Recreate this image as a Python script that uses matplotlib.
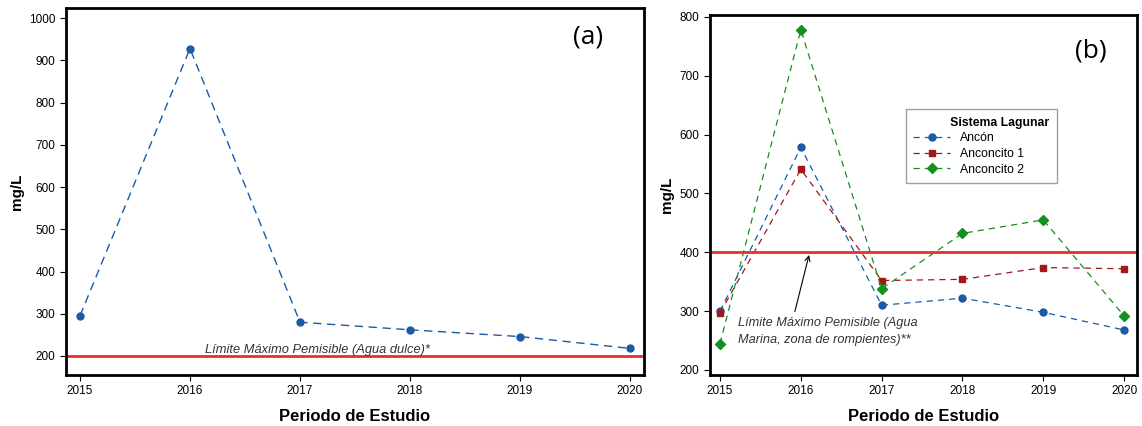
import numpy as np
import matplotlib.pyplot as plt

# -----------------------------
# Data
# -----------------------------
years = [2015, 2016, 2017, 2018, 2019, 2020]

# panel (a): agua dulce
dulce = [295, 928, 280, 262, 246, 218]
limite_dulce = 200

# panel (b): sistema lagunar
ancon = [300, 578, 310, 322, 298, 268]
anconcito1 = [297, 541, 352, 354, 374, 372]
anconcito2 = [245, 778, 338, 432, 455, 292]
limite_marina = 400

series_names = ["Ancón", "Anconcito 1", "Anconcito 2"]

BLUE = "#1a5aa6"
RED = "#a01818"
GREEN = "#14901e"
LIMIT = "#e8302a"

plt.rcParams["font.family"] = ["Liberation Sans", "DejaVu Sans"]

fig = plt.figure(figsize=(11.42, 4.26), dpi=100)

# -----------------------------
# Panel (a)
# -----------------------------
ax1 = fig.add_axes([66 / 1142, 1 - 375 / 426, (644 - 66) / 1142, (375 - 8) / 426])
ax1.plot(years, dulce, color=BLUE, linestyle=(0, (6, 4)), linewidth=1.0,
         marker="o", markersize=5)
ax1.axhline(limite_dulce, color=LIMIT, linewidth=2)
ax1.text(2016.14, 206, "Límite Máximo Pemisible (Agua dulce)*",
         fontsize=9.3, style="italic", color="#333333")
ax1.text(0.93, 0.92, "(a)", transform=ax1.transAxes, fontsize=19,
         ha="right", va="center", family=["Open Sans", "DejaVu Sans"])
ax1.set_xlim(2015 - 0.127, 2020 + 0.127)
ax1.set_ylim(155, 1024)
ax1.set_xticks(years)
ax1.set_yticks(np.arange(200, 1001, 100))
ax1.set_ylabel("mg/L", fontsize=11, fontweight="bold")
ax1.set_xlabel("Periodo de Estudio", fontsize=12, fontweight="bold", labelpad=8)

# -----------------------------
# Panel (b)
# -----------------------------
ax2 = fig.add_axes([710 / 1142, 1 - 375 / 426, (1137 - 710) / 1142, (375 - 15) / 426])
ax2.plot(years, ancon, color=BLUE, linestyle=(0, (5, 4)), linewidth=0.9,
         marker="o", markersize=5, label=series_names[0])
ax2.plot(years, anconcito1, color=RED, linestyle=(0, (5, 4)), linewidth=0.9,
         marker="s", markersize=5, label=series_names[1])
ax2.plot(years, anconcito2, color=GREEN, linestyle=(0, (5, 4)), linewidth=0.9,
         marker="D", markersize=5, label=series_names[2])
ax2.axhline(limite_marina, color=LIMIT, linewidth=2)
ax2.annotate("Límite Máximo Pemisible (Agua\nMarina, zona de rompientes)**",
             xy=(2016.11, 400), xytext=(2015.22, 290),
             fontsize=9.2, style="italic", color="#333333",
             linespacing=1.6, va="top",
             arrowprops=dict(arrowstyle="->", color="black", lw=0.8,
                             relpos=(0.31, 1.0)))
ax2.text(0.93, 0.9, "(b)", transform=ax2.transAxes, fontsize=19,
         ha="right", va="center", family=["Open Sans", "DejaVu Sans"])
ax2.set_xlim(2015 - 0.124, 2020 + 0.16)
ax2.set_ylim(191.5, 803)
ax2.set_xticks(years)
ax2.set_yticks(np.arange(200, 801, 100))
ax2.set_ylabel("mg/L", fontsize=11, fontweight="bold")
ax2.set_xlabel("Periodo de Estudio", fontsize=12, fontweight="bold", labelpad=8)
leg = ax2.legend(title="           Sistema Lagunar", loc="upper left",
                 bbox_to_anchor=(0.445, 0.755), fontsize=8.8,
                 title_fontproperties={"weight": "bold", "size": 8.8},
                 fancybox=False, edgecolor="#888888", handlelength=3.0,
                 borderpad=0.6, labelspacing=0.3)
leg._legend_box.align = "left"

for ax in (ax1, ax2):
    for s in ax.spines.values():
        s.set_linewidth(2)
    ax.tick_params(labelsize=8.5, length=4)

fig.savefig("out.png", dpi=100)
